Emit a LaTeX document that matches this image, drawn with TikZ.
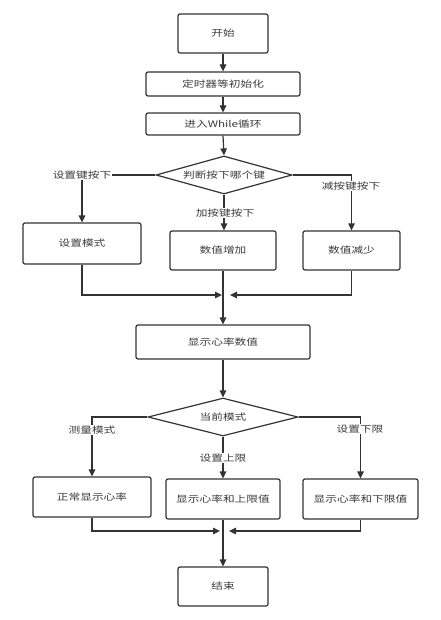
\documentclass[tikz,border=0pt]{standalone}
\usepackage{fontspec}
\newfontfamily\cjk[FakeStretch=1.3]{Noto Sans CJK SC}
\usetikzlibrary{shapes.geometric,arrows.meta}
\definecolor{ln}{HTML}{333333}
\definecolor{tx}{HTML}{3A3A3A}
\begin{document}
\begin{tikzpicture}[x=1pt,y=-1pt,
  box/.style={draw=ln, line width=1.2pt, rounded corners=2pt, fill=white, text=tx,
    font=\cjk\fontsize{9}{10}\selectfont, inner sep=0pt},
  dia/.style={diamond, draw=ln, line width=1.2pt, fill=white, text=tx,
    font=\cjk\fontsize{9}{10}\selectfont, inner sep=0pt},
  lbl/.style={fill=white, text=tx, font=\cjk\fontsize{9}{10}\selectfont, inner sep=1pt},
  arr/.style={draw=ln, line width=1.2pt, -{Triangle[length=7pt,width=6.5pt]}},
  ln/.style={draw=ln, line width=1.2pt}]
\useasboundingbox[fill=white] (0,0) rectangle (440,620);

\node[box, minimum width=90pt, minimum height=39pt] (start) at (223,33.5) {开始};
\node[box, minimum width=154pt, minimum height=24pt] (init) at (223,84) {定时器等初始化};
\node[box, minimum width=154pt, minimum height=22pt] (loop) at (223,124) {进入While循环};
\node[dia, minimum width=136pt, minimum height=38pt, shape aspect=3.6] (d1) at (224,175) {判断按下哪个键};
\node[box, minimum width=118pt, minimum height=41pt] (setm) at (82,243.5) {设置模式};
\node[box, minimum width=106pt, minimum height=39pt] (inc) at (223,250.5) {数值增加};
\node[box, minimum width=97pt, minimum height=39pt] (dec) at (351.5,250.5) {数值减少};
\node[box, minimum width=174pt, minimum height=34pt] (show) at (223,342) {显示心率数值};
\node[dia, minimum width=150pt, minimum height=38pt, shape aspect=3.9] (d2) at (223,417) {当前模式};
\node[box, minimum width=118pt, minimum height=40pt] (norm) at (92,497) {正常显示心率};
\node[box, minimum width=114pt, minimum height=40pt] (up) at (223,499) {显示心率和上限值};
\node[box, minimum width=115pt, minimum height=40pt] (low) at (360.5,499) {显示心率和下限值};
\node[box, minimum width=90pt, minimum height=39pt] (end) at (223,586.5) {结束};

\coordinate (m1l) at (222,295);
\coordinate (m1r) at (230,295);
\coordinate (m2l) at (220,531);
\coordinate (m2r) at (229,531);

\draw[arr] (start) -- (init);
\draw[arr] (init) -- (loop);
\draw[arr] (loop.south) -- (d1.north);
\draw[arr] (d1.west) -| (setm.north);
\draw[arr] (d1.south) -- (inc.north -| d1.south);
\draw[arr] (d1.east) -| (dec.north);
\draw[arr] (setm.south) |- (m1l);
\draw[arr] (dec.south) |- (m1r);
\draw[arr] (inc.south) -- (show.north);
\draw[arr] (show.south) -- (d2.north);
\draw[arr] (d2.west) -| (norm.north);
\draw[arr] (d2.south) -- (up.north);
\draw[arr] (d2.east) -| (low.north);
\draw[arr] (norm.south) |- (m2l);
\draw[arr] (low.south) |- (m2r);
\draw[arr] (up.south) -- (end.north);

\node[lbl] (la) at (82,175) {设置键按下};
\node[lbl] (lb) at (225,213) {加按键按下};
\node[lbl] (lc) at (351,186) {减按键按下};
\node[lbl] (ld) at (92,430) {测量模式};
\node[lbl] (le) at (223,458) {设置上限};
\node[lbl] (lf) at (360,429) {设置下限};
\end{tikzpicture}
\end{document}
